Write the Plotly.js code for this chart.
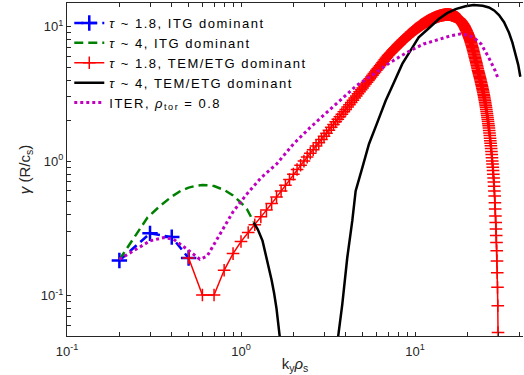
<!DOCTYPE html>
<html>
<head>
<meta charset="utf-8">
<script src="https://cdn.plot.ly/plotly-3.0.1.min.js"></script>
<style>
html,body{margin:0;padding:0;background:#fff;}
#chart{width:524px;height:375px;}
.legendtext{letter-spacing:1.5px;}
</style>
</head>
<body>
<div id="chart"></div>
<script>
// ---- data ----
const blueX = [0.2, 0.3, 0.4, 0.5];
const blueY = [0.182, 0.29, 0.272, 0.19];

const greenX = [0.2, 0.21, 0.24, 0.29, 0.34, 0.4, 0.45, 0.5, 0.55, 0.6, 0.65, 0.7, 0.8, 0.9, 1.0, 1.08, 1.18];
const greenY = [0.185, 0.203, 0.262, 0.38, 0.46, 0.545, 0.6, 0.635, 0.655, 0.663, 0.66, 0.652, 0.61, 0.555, 0.49, 0.44, 0.355];

const redX = [
0.5,0.6,0.7,0.8,0.9,1.0,1.1,1.2,1.3,1.4,1.5,1.6,1.7,1.8,1.9,
2.0,2.1,2.2,2.3,2.4,2.5,2.6,2.7,2.8,2.9,
3.0,3.1,3.2,3.3,3.4,3.5,3.6,3.7,3.8,3.9,
4.0,4.1,4.2,4.3,4.4,4.5,4.6,4.7,4.8,4.9,
5.0,5.1,5.2,5.3,5.4,5.5,5.6,5.7,5.8,5.9,
6.0,6.1,6.2,6.3,6.4,6.5,6.6,6.7,6.8,6.9,
7.0,7.1,7.2,7.3,7.4,7.5,7.6,7.7,7.8,7.9,
8.0,8.1,8.2,8.3,8.4,8.5,8.6,8.7,8.8,8.9,
9.0,9.1,9.2,9.3,9.4,9.5,9.6,9.7,9.8,9.9,
10.0,10.1,10.2,10.3,10.4,10.5,10.6,10.7,10.8,10.9,
11.0,11.1,11.2,11.3,11.4,11.5,11.6,11.7,11.8,11.9,
12.0,12.1,12.2,12.3,12.4,12.5,12.6,12.7,12.8,12.9,
13.0,13.1,13.2,13.3,13.4,13.5,13.6,13.7,13.8,13.9,
14.0,14.1,14.2,14.3,14.4,14.5,14.6,14.7,14.8,14.9,
15.0,15.1,15.2,15.3,15.4,15.5,15.6,15.7,15.8,15.9,
16.0,16.1,16.2,16.3,16.4,16.5,16.6,16.7,16.8,16.9,
17.0,17.1,17.2,17.3,17.4,17.5,17.6,17.7,17.8,17.9,
18.0,18.1,18.2,18.3,18.4,18.5,18.6,18.7,18.8,18.9,
19.0,19.1,19.2,19.3,19.4,19.5,19.6,19.7,19.8,19.9,
20.0,20.1,20.2,20.3,20.4,20.5,20.6,20.7,20.8,20.9,
21.0,21.1,21.2,21.3,21.4,21.5,21.6,21.7,21.8,21.9,
22.0,22.1,22.2,22.3,22.4,22.5,22.6,22.7,22.8,22.9,
23.0,23.1,23.2,23.3,23.4,23.5,23.6,23.7,23.8,23.9,
24.0,24.1,24.2,24.3,24.4,24.5,24.6,24.7,24.8,24.9,
25.0,25.1,25.2,25.3,25.4,25.5,25.6,25.7,25.8,25.9,
26.0,26.1,26.2,26.3,26.4,26.5,26.6,26.7,26.8,26.9,
27.0,27.1,27.2,27.3,27.4,27.5,27.6,27.7,27.8,27.9,
28.0,28.1,28.2,28.3,28.4,28.5,28.6,28.7,28.8,28.9,
29.0,29.1,29.2,29.3,29.4,29.5,29.6,29.7,29.8,29.9,
30.0];
const redY = [
0.19,0.101,0.101,0.154,0.205,0.252,0.294,0.336,0.385,0.432,0.483,0.54,0.60,0.66,0.73,
0.80,0.865,0.932,1.0,1.071,1.143,1.217,1.293,1.371,1.45,
1.53,1.613,1.697,1.783,1.869,1.958,2.049,2.14,2.234,2.33,
2.425,2.526,2.628,2.732,2.838,2.945,3.054,3.164,3.276,3.39,
3.505,3.621,3.739,3.858,3.979,4.101,4.224,4.349,4.475,4.603,
4.732,4.862,4.994,5.127,5.261,5.397,5.534,5.673,5.813,5.954,
6.096,6.22,6.34,6.46,6.58,6.70,6.82,6.94,7.06,7.18,
7.30,7.415,7.53,7.645,7.76,7.875,7.99,8.105,8.22,8.335,
8.45,8.555,8.66,8.765,8.87,8.975,9.08,9.185,9.29,9.395,
9.5,9.59,9.68,9.77,9.86,9.95,10.04,10.13,10.22,10.31,
10.4,10.475,10.55,10.625,10.7,10.775,10.85,10.925,11.0,11.075,
11.15,11.205,11.26,11.315,11.37,11.425,11.48,11.535,11.59,11.645,
11.7,11.74,11.78,11.82,11.86,11.9,11.94,11.98,12.02,12.06,
12.1,12.12,12.14,12.16,12.18,12.2,12.22,12.24,12.26,12.28,
12.3,12.3,12.31,12.31,12.31,12.3,12.3,12.29,12.28,12.27,
12.25,12.22,12.19,12.16,12.13,12.09,12.05,12.01,11.97,11.94,
11.9,11.85,11.8,11.74,11.68,11.62,11.56,11.5,11.43,11.37,
11.3,11.21,11.12,11.03,10.93,10.83,10.73,10.62,10.52,10.41,
10.3,10.18,10.06,9.93,9.8,9.67,9.54,9.41,9.27,9.14,
9.0,8.86,8.72,8.58,8.44,8.3,8.16,8.02,7.88,7.74,
7.6,7.445,7.29,7.135,6.98,6.825,6.67,6.515,6.36,6.205,
6.05,5.92,5.79,5.66,5.53,5.4,5.27,5.14,5.01,4.88,
4.75,4.657,4.564,4.471,4.378,4.285,4.192,4.099,4.006,3.913,
3.82,3.736,3.652,3.568,3.484,3.4,3.316,3.232,3.148,3.064,
2.98,2.90,2.82,2.74,2.66,2.58,2.50,2.42,2.34,2.26,
2.18,2.11,2.04,1.97,1.90,1.83,1.76,1.69,1.62,1.55,
1.48,1.42,1.36,1.30,1.24,1.18,1.12,1.06,1.00,0.95,
0.90,0.85,0.80,0.75,0.70,0.65,0.60,0.55,0.49,0.44,
0.39,0.35,0.313,0.28,0.248,0.215,0.181,0.148,0.115,0.084,
0.053];

const blackX = [1.18, 1.25, 1.33, 1.40, 1.45, 1.50, 1.55, 1.60, 1.67, 1.72, null,
  3.55, 3.62, 3.82, 4.08, 4.36, 4.56, 5.0, 5.44, 6.0, 6.78, 7.5, 8.45, 9.4, 10.5, 12.0, 13.7,
  15.3, 17.1, 19.5, 21.7, 24.5, 26.6, 28.5, 30.4, 32.5, 34.7, 36.3, 37.8, 39.2, 40.3];
const blackY = [0.35, 0.31, 0.255, 0.195, 0.16, 0.13, 0.104, 0.08, 0.0494, 0.035, null,
  0.035, 0.05, 0.086, 0.191, 0.359, 0.60, 0.91, 1.34, 1.86, 2.81, 3.75, 5.28, 6.6, 8.32, 9.74, 11.4,
  12.6, 13.5, 14.2, 14.5, 14.3, 13.9, 13.2, 12.2, 10.8, 9.0, 7.6, 6.3, 5.2, 4.24];

const magX = [0.2, 0.24, 0.3, 0.36, 0.41, 0.49, 0.58, 0.64, 0.76, 0.9, 1.08, 1.3, 1.6, 2.0, 2.5, 3.1, 3.7,
  4.6, 5.8, 7.2, 9.0, 11.2, 14.0, 16.0, 18.2, 20.5, 22.0, 24.0, 26.5, 28.9, 30.1];
const magY = [0.186, 0.215, 0.255, 0.27, 0.262, 0.221, 0.186, 0.197, 0.286, 0.42, 0.568, 0.75, 0.95, 1.34, 1.78, 2.30, 2.85,
  3.64, 4.44, 5.42, 6.44, 7.43, 8.1, 8.55, 8.83, 8.6, 8.2, 7.43, 5.91, 4.70, 4.08];

const seriesNames = [
  '<i>τ</i> ~ 1.8, ITG dominant',
  '<i>τ</i> ~ 4, ITG dominant',
  '<i>τ</i> ~ 1.8, TEM/ETG dominant',
  '<i>τ</i> ~ 4, TEM/ETG dominant',
  'ITER, <i>ρ</i><sub>tor</sub> = 0.8'
];

const xTickVals = [0.1,0.2,0.3,0.4,0.5,0.6,0.7,0.8,0.9,1,2,3,4,5,6,7,8,9,10,20,30,40];
const xTickText = ['10<sup>-1</sup>','','','','','','','','','10<sup>0</sup>','','','','','','','','','10<sup>1</sup>','','',''];
const yTickVals = [0.05,0.06,0.07,0.08,0.09,0.1,0.2,0.3,0.4,0.5,0.6,0.7,0.8,0.9,1,2,3,4,5,6,7,8,9,10];
const yTickText = ['','','','','','10<sup>-1</sup>','','','','','','','','','10<sup>0</sup>','','','','','','','','','10<sup>1</sup>'];

// ---- traces ----
const FONT = 'Liberation Sans, Arial, Helvetica, sans-serif';
const traces = [
  {x: blueX, y: blueY, name: seriesNames[0], type: 'scatter', mode: 'lines+markers',
   line: {color: '#0000ff', width: 2.5, dash: '9px,5px'},
   marker: {symbol: 'cross-thin-open', size: 11, color: '#0000ff', line: {color: '#0000ff', width: 2.5}}},
  {x: greenX, y: greenY, name: seriesNames[1], type: 'scatter', mode: 'lines',
   line: {color: '#008000', width: 2.5, dash: '9px,5px'}},
  {x: redX, y: redY, name: seriesNames[2], type: 'scatter', mode: 'lines+markers',
   line: {color: '#ff0000', width: 1.5},
   marker: {symbol: 'cross-thin-open', size: 9, color: '#ff0000', line: {color: '#ff0000', width: 1.5}}},
  {x: blackX, y: blackY, name: seriesNames[3], type: 'scatter', mode: 'lines', connectgaps: false,
   line: {color: '#000000', width: 2.5}},
  {x: magX, y: magY, name: seriesNames[4], type: 'scatter', mode: 'lines',
   line: {color: '#bf00bf', width: 3, dash: '3px,3px'}}
];

const axisCommon = {
  type: 'log',
  showgrid: false,
  zeroline: false,
  showline: true,
  linecolor: '#262626',
  linewidth: 1,
  ticks: 'inside',
  ticklen: 4,
  tickwidth: 1,
  tickcolor: '#262626',
  tickmode: 'array',
  tickfont: {family: FONT, size: 13, color: '#262626'}
};

const layout = {
  width: 524, height: 375,
  margin: {l: 67, r: 1, t: 3, b: 39},
  paper_bgcolor: '#ffffff',
  plot_bgcolor: '#ffffff',
  font: {family: FONT, size: 13, color: '#262626'},
  showlegend: true,
  legend: {x: 0.005, y: 0.985, xanchor: 'left', yanchor: 'top', bgcolor: 'rgba(0,0,0,0)',
           borderwidth: 0, font: {family: FONT, size: 13, color: '#000000'}, tracegroupgap: 0},
  xaxis: Object.assign({}, axisCommon, {
    range: [-1, 1.6207], mirror: 'ticks', ticklabelstandoff: 3,
    tickvals: xTickVals, ticktext: xTickText,
    title: {text: 'k<sub>y</sub><i>ρ</i><sub>s</sub>', font: {family: FONT, size: 15, color: '#262626'}, standoff: 0}
  }),
  yaxis: Object.assign({}, axisCommon, {
    range: [-1.30103, 1.17609], mirror: false,
    tickvals: yTickVals, ticktext: yTickText,
    title: {text: '<i>γ</i> (R/c<sub>s</sub>)', font: {family: FONT, size: 15, color: '#262626'}, standoff: 6}
  })
};

Plotly.newPlot('chart', traces, layout, {displayModeBar: false, staticPlot: true});
</script>
</body>
</html>
